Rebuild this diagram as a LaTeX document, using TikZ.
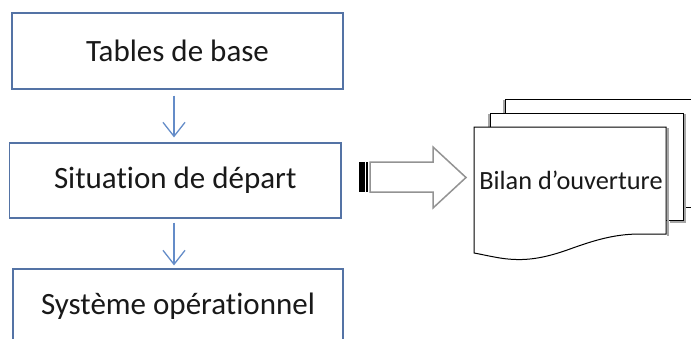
\documentclass[tikz,border=0pt]{standalone}
\usepackage{fontspec}
\setmainfont[Ligatures=NoCommon]{Carlito}
\usetikzlibrary{arrows.meta}
\definecolor{boxline}{RGB}{84,115,165}
\definecolor{flowline}{RGB}{100,140,200}
\definecolor{textdark}{RGB}{25,25,25}
\begin{document}
\begin{tikzpicture}[x=1pt,y=-1pt,
  stepbox/.style={draw=boxline,line width=1.2pt,fill=white,minimum width=331pt,
    minimum height=76pt,inner sep=0pt,font=\fontsize{31}{36}\selectfont,text=textdark},
  flow/.style={draw=flowline,line width=1.3pt,
    -{Straight Barb[length=14pt,width=22pt,line width=1.3pt]}},
  sheet/.style={draw=black,line width=1pt,fill=white},
  sheetshadow/.style={draw=gray!70,line width=2pt},
  blockarrow/.style={draw=gray!85,line width=1.5pt,fill=white}]
\useasboundingbox (0,0) rectangle (691,338);
\clip (0,0) rectangle (691,338);

% flow of steps
\node[stepbox] (base) at (177.5,51) {Tables de base};
\node[stepbox,minimum height=75pt,minimum width=331.5pt] (depart) at (175.25,180.5) {Situation de départ};
\node[stepbox,minimum height=74pt,minimum width=330pt] (systeme) at (178,306) {Système opérationnel};

\draw[flow] ([xshift=-3.5pt,yshift=-6pt]base.south) -- ([xshift=-1.25pt,yshift=5pt]depart.north);
\draw[flow] ([xshift=-1.25pt,yshift=-4pt]depart.south) -- ([xshift=-4pt,yshift=3pt]systeme.north);

% striped block arrow towards the documents
\coordinate (tail) at (359,177);
\fill[black] ([yshift=15pt]tail) rectangle ++(5.5,30);
\fill[black] ([xshift=6.5pt,yshift=15pt]tail) rectangle ++(2.5,30);
\draw[blockarrow] (370,162) -- (433,162) -- (433,147) -- (466,177.5)
  -- (433,208) -- (433,192) -- (370,192) -- cycle;

% stack of documents
\draw[sheetshadow] (503.5,100) -- (503.5,207);
\draw[sheet] (505,99) rectangle (700,207);
\draw[sheetshadow] (488.5,114) -- (488.5,220);
\draw[sheetshadow] (684.5,114) -- (684.5,221.5) -- (670,221.5);
\draw[sheet] (490,113) rectangle (683,220);
\draw[sheetshadow] (667.5,128) -- (667.5,235.5);
\draw[sheet] (474,127) -- (666,127) -- (666,234) -- (640,234)
  .. controls (615,234) and (595,240) .. (570,249)
  .. controls (545,258) and (525,262) .. (500,258)
  .. controls (488,256) and (480,254) .. (474,253) -- cycle;
\node[font=\fontsize{26.3}{30}\selectfont,text=textdark,inner sep=0pt] (bilan) at (571,180) {Bilan d’ouverture};
\end{tikzpicture}
\end{document}
